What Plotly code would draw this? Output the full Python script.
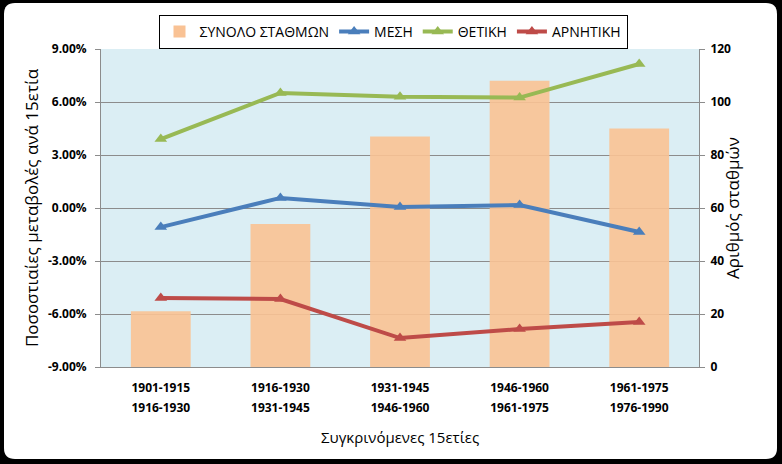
import plotly.graph_objects as go

period_first = ["1901-1915", "1916-1930", "1931-1945", "1946-1960", "1961-1975"]
period_second = ["1916-1930", "1931-1945", "1946-1960", "1961-1975", "1976-1990"]
categories = [f"{a}<br>{b}" for a, b in zip(period_first, period_second)]
synolo_stathmon = [21, 54, 87, 108, 90]
mesi = [-1.08, 0.57, 0.06, 0.17, -1.36]
thetiki = [3.90, 6.51, 6.30, 6.25, 8.15]
arnitiki = [-5.09, -5.15, -7.36, -6.85, -6.45]
pct_ticks = [-9, -6, -3, 0, 3, 6, 9]
pct_labels = [f"{v:.2f}%" for v in pct_ticks]

FONT = "Open Sans"
sp = "<span style='font-size:12px'>"
cat_ticktext = [f"{sp}{a}</span><br>{sp}{b}</span>" for a, b in zip(period_first, period_second)]

fig = go.Figure()
# bars on primary (right-side) axis, lines on overlaying percent axis so lines draw above bars
fig.add_trace(go.Bar(x=categories, y=synolo_stathmon, name="ΣΥΝΟΛΟ ΣΤΑΘΜΩΝ", yaxis="y",
                     marker=dict(color="#F9C294", opacity=0.9, line=dict(width=0)), width=0.5))
for name, vals, col in [("ΜΕΣΗ", mesi, "#4A7EBB"), ("ΘΕΤΙΚΗ", thetiki, "#98B954"),
                        ("ΑΡΝΗΤΙΚΗ", arnitiki, "#BE4B48")]:
    fig.add_trace(go.Scatter(x=categories, y=vals, name=name, mode="lines+markers", yaxis="y2",
                             line=dict(color=col, width=4),
                             marker=dict(symbol="triangle-up", size=11, color=col)))

# geometry helpers (paper coords)
W, H = 782, 464
L, R, T, B = 101, 699, 49, 367
def px(x): return (x - L) / (R - L)
def py(y): return (B - y) / (B - T)
x0, x1, y0, y1 = px(4), px(777), py(459), py(3)
rx, ry = 11 / (R - L), 11 / (B - T)
path = (f"M {x0+rx},{y1} L {x1-rx},{y1} Q {x1},{y1} {x1},{y1-ry} L {x1},{y0+ry} "
        f"Q {x1},{y0} {x1-rx},{y0} L {x0+rx},{y0} Q {x0},{y0} {x0},{y0+ry} "
        f"L {x0},{y1-ry} Q {x0},{y1} {x0+rx},{y1} Z")

fig.update_layout(
    width=W, height=H,
    margin=dict(l=L, r=W - R, t=T, b=H - B, autoexpand=False),
    paper_bgcolor="black",
    plot_bgcolor="rgba(0,0,0,0)",
    font=dict(family=FONT, color="black"),
    shapes=[
        dict(type="path", xref="paper", yref="paper", path=path, fillcolor="white",
             line=dict(width=0), layer="below"),
        dict(type="rect", xref="paper", yref="paper", x0=0, x1=1, y0=0, y1=1,
             fillcolor="#DBEEF4", line=dict(width=0), layer="below"),
    ],
    legend=dict(orientation="h", xref="container", yref="container",
                x=393 / W, xanchor="center", y=1 - 15 / H, yanchor="top",
                bgcolor="white", bordercolor="black", borderwidth=1,
                font=dict(family=FONT, size=14), traceorder="normal"),
    xaxis=dict(showgrid=False, showline=True, linecolor="#8C8C8C", linewidth=1, automargin=False,
               ticks="outside", ticklen=6, tickcolor="rgba(0,0,0,0)",
               tickvals=categories, ticktext=cat_ticktext,
               tickfont=dict(family=FONT, size=15, weight="bold")),
    yaxis=dict(range=[0, 120], dtick=20, side="right", showgrid=False, automargin=False,
               zeroline=False, showline=True, linecolor="#8C8C8C", ticks="outside", ticklen=5,
               tickcolor="#8C8C8C", tickfont=dict(family=FONT, size=12, weight="bold"),
               ticklabelstandoff=3),
    yaxis2=dict(range=[-9, 9], tickvals=pct_ticks, ticktext=pct_labels, overlaying="y", side="left",
                showgrid=True, gridcolor="#8C8C8C", gridwidth=1, zeroline=False, automargin=False,
                showline=True, linecolor="#8C8C8C", ticks="outside", ticklen=5, tickcolor="#8C8C8C",
                tickfont=dict(family=FONT, size=12, weight="bold"), ticklabelstandoff=6,
                title=dict(text="Ποσοστιαίες μεταβολές ανά 15ετία", font=dict(family=FONT, size=17), standoff=4)),
    annotations=[
        dict(text="Συγκρινόμενες 15ετίες", xref="paper", yref="paper",
             x=px(400), y=py(437), xanchor="center", yanchor="middle", showarrow=False,
             font=dict(family=FONT, size=15)),
        dict(text="Αριθμός σταθμών", xref="paper", yref="paper", textangle=-90,
             x=px(732), y=py(208), xanchor="center", yanchor="middle", showarrow=False,
             font=dict(family=FONT, size=17)),
    ],
)
fig.write_html("out.html", config={"displayModeBar": False},
               post_script="document.body.style.margin='0';document.body.style.background='black';")
